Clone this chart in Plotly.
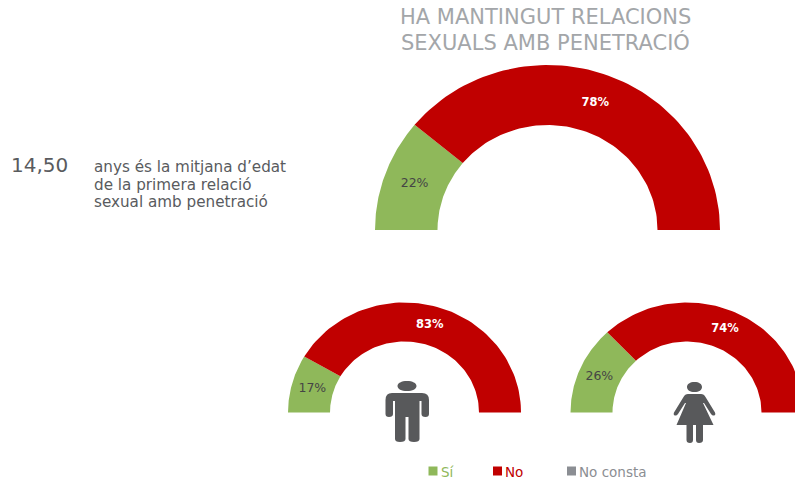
import numpy as np
import plotly.graph_objects as go

W, H = 795, 481
FONT = "DejaVu Sans"
GREEN, RED, GREY = "#8fb85a", "#c00000", "#8b8e93"

answers = ["Sí", "No"]
total_values = [22, 78]
men_values = [17, 83]
women_values = [26, 74]

title_lines = ["HA MANTINGUT RELACIONS", "SEXUALS AMB PENETRACIÓ"]
age_value = "14,50"
age_lines = ["anys és la mitjana d’edat", "de la primera relació", "sexual amb penetració"]
legend_labels = ["Sí", "No", "No consta"]
legend_colors = [GREEN, RED, GREY]
slice_colors = [GREEN, RED]

fig = go.Figure()


def half_donut(values, group, cx, cy, outer, inner):
    """Half donut on the hidden pixel-scaled axes; each slice spans its share of 180 degrees."""
    rx, ry = outer
    ix, iy = inner
    total = sum(values)
    start = 0.0
    for answer, value, color in zip(answers, values, slice_colors):
        end = start + value / total * np.pi
        t = np.linspace(start, end, 80)
        x = np.r_[cx - rx * np.cos(t), cx - ix * np.cos(t[::-1])]
        y = np.r_[cy - ry * np.sin(t), cy - iy * np.sin(t[::-1])]
        fig.add_trace(go.Scatter(
            x=x, y=y, mode="lines", fill="toself", fillcolor=color, line=dict(width=0),
            name=f"{group}: {answer}", text=f"{group}: {answer} {value}%", hoveron="fills",
            hoverinfo="text", showlegend=False,
        ))
        mid = (start + end) / 2
        white = color == RED
        fig.add_trace(go.Scatter(
            x=[cx - (rx + ix) / 2 * np.cos(mid)], y=[cy - (ry + iy) / 2 * np.sin(mid)],
            mode="text", text=[f"{value}%"], textposition="middle center", hoverinfo="skip",
            textfont=dict(family=FONT, size=11.5 if white else 12.5,
                          color="#ffffff" if white else "#454545",
                          weight="bold" if white else "normal"),
            showlegend=False,
        ))
        start = end


half_donut(total_values, "Total", 547.5, 230, (172.5, 165), (110, 105))
half_donut(men_values, "Homes", 404.5, 412.5, (116.5, 110), (74.5, 71))
half_donut(women_values, "Dones", 687, 412.5, (116.5, 110), (74.5, 71))

notes = []
for y, line in zip([17, 42], title_lines):
    notes.append(dict(x=545.5, y=y, text=line, xanchor="center", yanchor="middle",
                      font=dict(size=21, color="#a3a6a9")))
notes.append(dict(x=9, y=165, text=age_value, xanchor="left", yanchor="middle",
                  font=dict(size=20, color="#595b5e")))
for y, line in zip([167, 185, 202], age_lines):
    notes.append(dict(x=92, y=y, text=line, xanchor="left", yanchor="middle",
                      font=dict(size=15.2, color="#595b5e")))

shapes = []
for x, label, color in zip([428.5, 493, 567], legend_labels, legend_colors):
    shapes.append(dict(type="rect", x0=x, x1=x + 9, y0=466.5, y1=475.5,
                       fillcolor=color, line_width=0))
    notes.append(dict(x=x + 10, y=471.5, text=label, xanchor="left", yanchor="middle",
                      font=dict(size=13.5, color=color)))

ICON = "#58595b"
MAN = ("M407 381 C412.5 381 416.5 383 416.5 386 C416.5 389 412.5 391 407 391 C401.5 391 397.5 389 397.5 386 "
       "C397.5 383 401.5 381 407 381 Z "
       "M392 393 L422 393 Q429 393 429 400 L429 414 Q429 417 425.5 417 Q421.5 417 421.5 414 L421.5 401 L419.5 401 "
       "L419.5 439 Q419.5 442 414 442 Q408.5 442 408.5 439 L408.5 417 L405.5 417 L405.5 439 Q405.5 442 400 442 "
       "Q395 442 395 439 L395 401 L393 401 L393 414 Q393 417 389 417 Q385.5 417 385.5 414 L385.5 400 "
       "Q385.5 393 392 393 Z")
WOMAN = ("M694.5 382 C699 382 702 384 702 387 C702 390 699 392 694.5 392 C690 392 687 390 687 387 "
         "C687 384 690 382 694.5 382 Z "
         "M688 394 L701 394 Q704 394 705.5 397 L715 412.5 Q716 415 714 415.5 Q712.5 416 711 414 L704 403 L703 403 "
         "L713.5 425 L703 425 L703 440 Q703 443 699 443 Q696 443 696 440 L696 425 L693 425 L693 440 "
         "Q693 443 690 443 Q686.5 443 686.5 440 L686.5 425 L676.5 425 L686 403 L685 403 L678 414 Q676.5 416 675 415.5 "
         "Q673 415 674 412.5 L683.5 397 Q685 394 688 394 Z")
for path in (MAN, WOMAN):
    shapes.append(dict(type="path", path=path, fillcolor=ICON, line_width=0))

for n in notes:
    n.update(xref="x", yref="y", showarrow=False)

fig.update_layout(
    width=W, height=H, autosize=False, margin=dict(l=0, r=0, t=0, b=0),
    paper_bgcolor="white", plot_bgcolor="white", font=dict(family=FONT),
    xaxis=dict(range=[0, W], visible=False, fixedrange=True),
    yaxis=dict(range=[H, 0], visible=False, fixedrange=True),
    shapes=shapes, annotations=notes,
)
fig.write_html("out.html", config=dict(displayModeBar=False),
               post_script="document.body.style.margin='0';document.body.style.overflow='hidden';")
